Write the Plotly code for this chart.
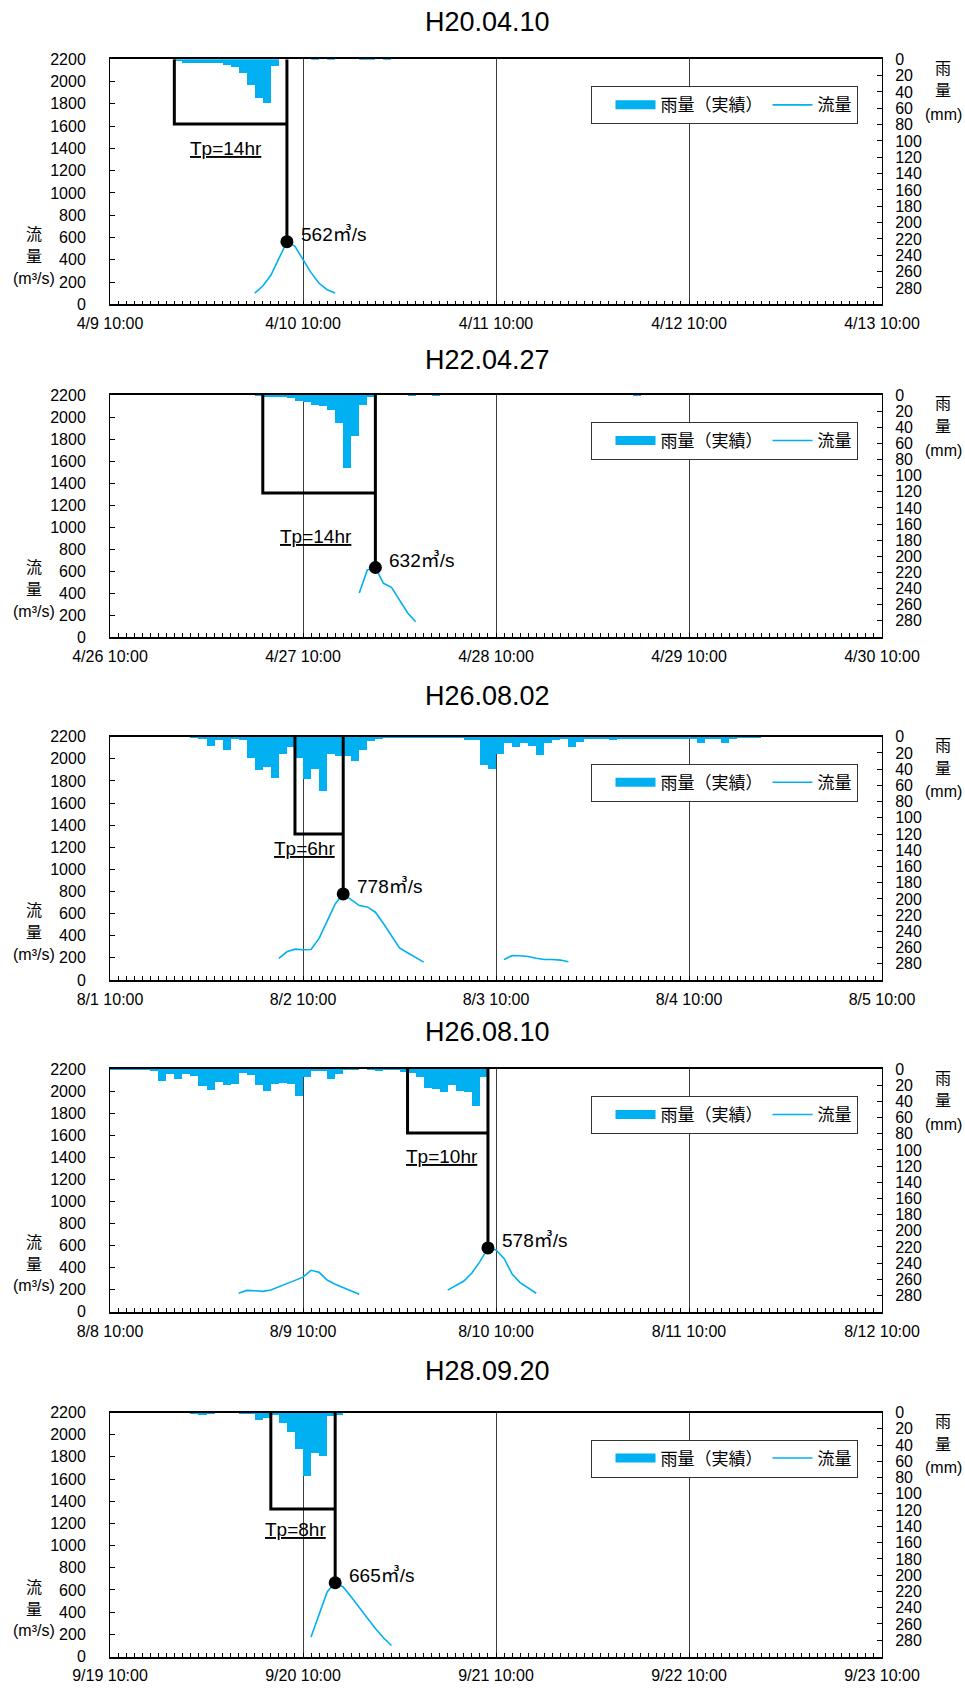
import pandas as pd
import plotly.graph_objects as go

# ---------------------------------------------------------------- data ----
titles = ["H20.04.10", "H22.04.27", "H26.08.02", "H26.08.10", "H28.09.20"]
axis_start = ["2008-04-09 10:00", "2010-04-26 10:00", "2014-08-01 10:00",
              "2014-08-08 10:00", "2016-09-19 10:00"]

# hourly rainfall (mm), one value per hour starting at *_start
rain_e1_start = "2008-04-09 18:00"
rain_e1 = [1.5, 5, 5, 5, 4.5, 4.5, 7, 10, 17.5, 32, 48, 54, 8,
           0, 0, 0, 0, 0.5, 0, 1, 0, 0, 0, 0.5, 0.5, 0, 0.5]

rain_e2_start = "2010-04-27 04:00"
rain_e2 = [1, 2, 2, 2, 4, 7, 8.5, 12, 14, 18, 35, 91, 51, 12, 3,
           0, 0, 0, 0, 0.5, 0, 0, 0.5, 0, 0, 0, 0, 0, 0, 0, 0, 0, 0,
           0, 0, 0, 0, 0, 0, 0, 0, 0, 0, 0, 0, 0, 0, 1]

rain_e3_start = "2014-08-01 20:00"
rain_e3 = [1, 2, 11, 4, 16, 2, 4, 26, 41, 37,
           50, 21, 12, 26, 52, 40, 66, 21, 24, 24,
           30, 16, 5, 2.5, 1, 1, 0.5, 1, 0.5, 0.5,
           0.5, 0.5, 0.5, 1, 4, 4, 34, 39, 21, 8,
           12, 8, 11, 22, 7, 4, 3, 12, 6, 3,
           2, 3, 4, 3, 3, 3, 3, 3, 2, 2,
           3, 3, 2, 7, 3, 3, 7, 3, 1, 1, 1]

rain_e4_start = "2014-08-08 10:00"
rain_e4 = [0.5, 0.5, 0.5, 0.5, 0.5, 2.5, 15, 6.5, 12, 6.5,
           8.5, 21.5, 26, 16, 20, 19, 5, 8, 20, 27,
           19, 17, 19, 33, 10.5, 1.5, 2.5, 12.5, 6.5, 0.5,
           0.5, 0, 0.5, 2.4, 1.2, 1.2, 3.2, 4.5, 10, 23.5,
           25, 28.4, 19.5, 27, 28.4, 46, 9.3]

rain_e5_start = "2016-09-19 20:00"
rain_e5 = [1, 1.5, 0.5, 0, 0, 0, 1, 1, 9, 6, 2.5, 12, 23.5, 44, 78, 49, 53, 4, 2]

# hourly discharge (m3/s), one value per hour starting at *_start
flow_e1_start = "2008-04-10 04:00"
flow_e1 = [101, 164, 260, 404, 562, 520, 407, 284, 189, 131, 101]

flow_e2_start = "2010-04-27 17:00"
flow_e2 = [400, 609, 632, 488, 452, 336, 221, 139]

flow_e3_start = "2014-08-02 07:00"
flow_e3 = [195, 255, 279, 273, 276, 376, 532, 688, 778, 727, 673, 661, 613,
           511, 403, 291, 246, 204, 162]
flow_e3b_start = "2014-08-03 11:00"
flow_e3b = [186, 220, 219, 212, 196, 185, 185, 180, 165]

flow_e4_start = "2014-08-09 02:00"
flow_e4 = [167, 193, 190, 184, 196, 226, 261, 284, 313, 375, 357, 287, 249,
           220, 190, 158]
flow_e4b_start = "2014-08-10 04:00"
flow_e4b = [196, 235, 278, 351, 454, 578, 560, 483, 342, 264, 213, 167]

flow_e5_start = "2016-09-20 11:00"
flow_e5 = [175, 383, 582, 665, 627, 536, 440, 340, 253, 169, 99]

rain_series = [(rain_e1_start, rain_e1), (rain_e2_start, rain_e2),
               (rain_e3_start, rain_e3), (rain_e4_start, rain_e4),
               (rain_e5_start, rain_e5)]
flow_series = [[(flow_e1_start, flow_e1)],
               [(flow_e2_start, flow_e2)],
               [(flow_e3_start, flow_e3), (flow_e3b_start, flow_e3b)],
               [(flow_e4_start, flow_e4), (flow_e4b_start, flow_e4b)],
               [(flow_e5_start, flow_e5)]]

# rainfall start / peak time (Tp) and peak discharge
tp_start = ["2008-04-09 18:00", "2010-04-27 05:00", "2014-08-02 09:00",
            "2014-08-09 23:00", "2016-09-20 06:00"]
peak_time = ["2008-04-10 08:00", "2010-04-27 19:00", "2014-08-02 15:00",
             "2014-08-10 09:00", "2016-09-20 14:00"]
peak_flow = [562, 632, 778, 578, 665]
tp_box_level = [1620, 1310, 1320, 1620, 1330]
tp_label_at = [("2008-04-10 00:24", 1400), ("2010-04-27 11:36", 912),
               ("2014-08-02 10:12", 1187), ("2014-08-10 03:18", 1411),
               ("2016-09-20 09:06", 1146)]

flow_ticks = list(range(0, 2201, 200))
rain_ticks = list(range(0, 281, 20))

# -------------------------------------------------------------- layout ----
W, H = 965, 1688
PLOT_L, PLOT_R = 110, 882
panel_top = [59.3, 395, 736.7, 1069, 1412.5]
panel_bot = [304.3, 637, 980, 1311.7, 1656.5]
title_y = [22, 360, 696, 1032, 1371]

BLUE = "#00B0F0"
FLOW_MAX = 2200
RAIN_MAX = 300
HOUR_MS = 3600 * 1000
LATIN = "Liberation Sans, Arial, Noto Sans CJK JP, sans-serif"
CJK = "Noto Sans CJK JP, sans-serif"


def px_x(v):
    return v / W


def px_y(v):
    return 1 - v / H


def paper_text(x, y, text, family, size):
    return dict(x=px_x(x), y=px_y(y), xref="paper", yref="paper",
                xanchor="center", yanchor="middle", text=text,
                showarrow=False, font=dict(family=family, size=size))


fig = go.Figure()
layout = dict(
    width=W, height=H, autosize=False,
    margin=dict(l=0, r=0, t=0, b=0, pad=0, autoexpand=False),
    paper_bgcolor="white", plot_bgcolor="white",
    font=dict(family=LATIN, size=16, color="black"),
    showlegend=True,
)
annotations = []

for i in range(5):
    xn = "x" if i == 0 else f"x{i + 1}"
    yr = "y" if i == 0 else f"y{2 * i + 1}"      # rainfall (base, right side)
    yf = f"y{2 * i + 2}"                          # discharge (overlay, left)
    lg = "legend" if i == 0 else f"legend{i + 1}"
    x0 = pd.Timestamp(axis_start[i])
    x1 = x0 + pd.Timedelta(days=4)

    # legend swatch for the rainfall bars
    fig.add_trace(go.Scatter(x=[None], y=[None], mode="lines", name="雨量（実績）",
                             line=dict(color=BLUE, width=9),
                             xaxis=xn, yaxis=yr, legend=lg, hoverinfo="skip"))

    r0, rv = rain_series[i]
    rt = pd.date_range(r0, periods=len(rv), freq="h")
    fig.add_trace(go.Bar(x=rt, y=rv, width=HOUR_MS, offset=0,
                         marker=dict(color=BLUE, line=dict(width=0)),
                         showlegend=False, xaxis=xn, yaxis=yr, legend=lg))

    fx, fy = [], []
    for k, (s, vals) in enumerate(flow_series[i]):
        if k:
            fx.append(None)
            fy.append(None)
        fx += list(pd.date_range(s, periods=len(vals), freq="h"))
        fy += vals
    fig.add_trace(go.Scatter(x=fx, y=fy, mode="lines", name="流量",
                             line=dict(color=BLUE, width=1.6),
                             connectgaps=False, xaxis=xn, yaxis=yf, legend=lg))

    ts, tpk = pd.Timestamp(tp_start[i]), pd.Timestamp(peak_time[i])
    lev, pk = tp_box_level[i], peak_flow[i]
    fig.add_trace(go.Scatter(x=[ts, ts, tpk, None, tpk, tpk],
                             y=[FLOW_MAX, lev, lev, None, FLOW_MAX, pk],
                             mode="lines", line=dict(color="black", width=3),
                             showlegend=False, xaxis=xn, yaxis=yf, hoverinfo="skip"))
    fig.add_trace(go.Scatter(x=[tpk], y=[pk], mode="markers",
                             marker=dict(color="black", size=13),
                             showlegend=False, xaxis=xn, yaxis=yf, cliponaxis=False))

    tp_hours = int((tpk - ts) / pd.Timedelta(hours=1))
    lt, lv = tp_label_at[i]
    annotations.append(dict(x=lt, y=lv, xref=xn, yref=yf, showarrow=False,
                            xanchor="center", yanchor="middle",
                            text=f"<u>Tp={tp_hours}hr</u>",
                            font=dict(family=LATIN, size=19)))
    annotations.append(dict(x=tpk, y=pk, xref=xn, yref=yf, showarrow=False,
                            text=f"{pk}㎥/s", xanchor="left", yanchor="middle",
                            xshift=12, yshift=7,
                            font=dict(family=LATIN, size=19)))

    top, bot = panel_top[i], panel_bot[i]
    dom = [px_y(bot), px_y(top)]
    xkey = "xaxis" if i == 0 else f"xaxis{i + 1}"
    layout[xkey] = dict(
        domain=[px_x(PLOT_L), px_x(PLOT_R)], anchor=yr, type="date",
        range=[x0, x1], tick0=x0, dtick=86400000, tickformat="%-m/%-d %H:%M",
        ticks="inside", ticklen=4, tickcolor="black",
        showgrid=True, gridcolor="#3c3c3c", gridwidth=1,
        showline=True, linecolor="black", linewidth=1.5, mirror=True,
        minor=dict(dtick=HOUR_MS, ticks="inside", ticklen=4, tickcolor="black",
                   showgrid=False),
        tickfont=dict(size=16), ticklabelstandoff=4, automargin=False,
        fixedrange=True,
    )
    ykey_r = "yaxis" if i == 0 else f"yaxis{2 * i + 1}"
    layout[ykey_r] = dict(
        domain=dom, anchor=xn, side="right", range=[RAIN_MAX, 0],
        tickvals=rain_ticks, ticks="inside", ticklen=5, tickcolor="black",
        showline=True, linecolor="black", linewidth=1,
        showgrid=False, zeroline=False, tickfont=dict(size=16),
        ticklabelstandoff=9, automargin=False,
    )
    layout[f"yaxis{2 * i + 2}"] = dict(
        overlaying=yr, anchor=xn, side="left", range=[0, FLOW_MAX],
        tickvals=flow_ticks, ticks="inside", ticklen=5, tickcolor="black",
        showline=True, linecolor="black", linewidth=1,
        showgrid=False, zeroline=False, tickfont=dict(size=16),
        ticklabelstandoff=20, automargin=False,
    )
    layout[lg] = dict(
        x=px_x(858), xanchor="right", y=px_y(top + 27), yanchor="top",
        orientation="h", bgcolor="white", bordercolor="#333333", borderwidth=1,
        font=dict(family=CJK, size=17), itemwidth=40, traceorder="normal",
        title=dict(text="\u2002", side="left", font=dict(family=CJK, size=17)),
    )

    # panel title and axis captions
    annotations.append(paper_text(487, title_y[i], titles[i], LATIN, 27))
    for txt, dy, fam in (("流", 71, CJK), ("量", 49, CJK), ("(m³/s)", 26, LATIN)):
        annotations.append(paper_text(34, bot - dy, txt, fam, 16))
    for txt, dy, fam in (("雨", 7.5, CJK), ("量", 30, CJK), ("(mm)", 55, LATIN)):
        annotations.append(paper_text(943, top + dy, txt, fam, 16))

layout["annotations"] = annotations
layout["bargap"] = 0
fig.update_layout(**layout)
fig.write_html("out.html")
